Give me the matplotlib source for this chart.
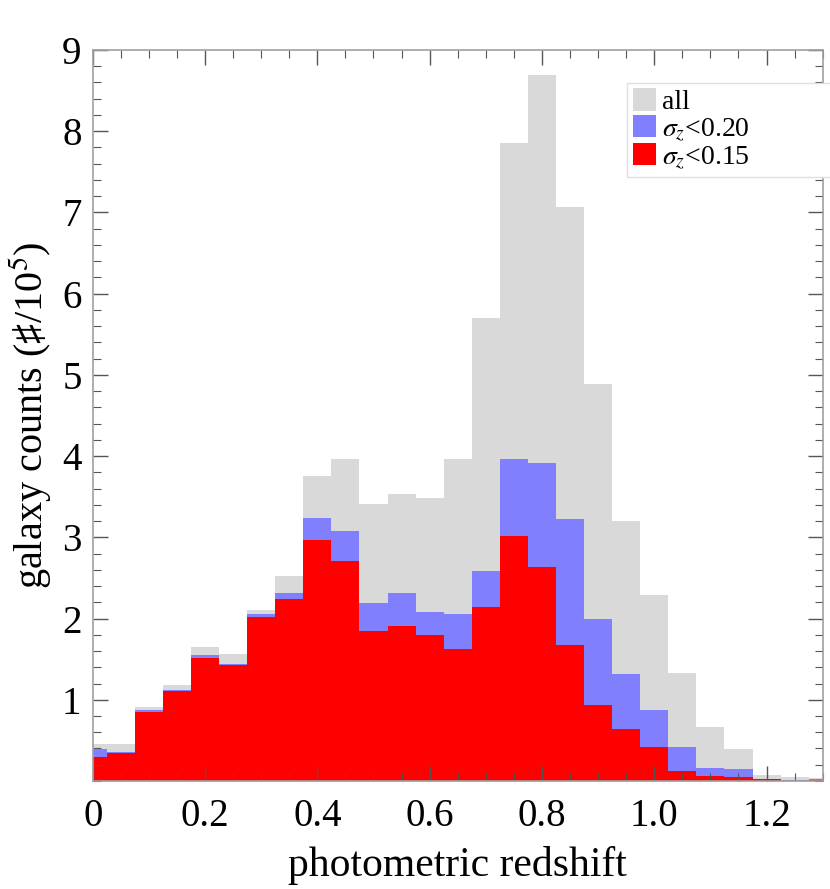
import matplotlib
matplotlib.use("Agg")
import matplotlib.pyplot as plt
from matplotlib.ticker import MultipleLocator, FixedLocator
import numpy as np

plt.rcParams['font.family'] = ['Liberation Serif', 'DejaVu Serif']
plt.rcParams['mathtext.fontset'] = 'stix'

# bin centres (width 0.05)
z_centers = [round(0.05 * i, 2) for i in range(27)]
bin_width = 0.05

counts_all = [0.45, 0.45, 0.915, 1.18, 1.65, 1.56, 2.11, 2.52, 3.756, 3.96, 3.415, 3.53, 3.49,
              3.96, 5.705, 7.85, 8.695, 7.07, 4.89, 3.205, 2.29, 1.334, 0.66, 0.394, 0.074, 0.05, 0.04]
counts_s20 = [0.39, 0.36, 0.88, 1.12, 1.55, 1.44, 2.06, 2.32, 3.235, 3.08, 2.19, 2.31, 2.08,
              2.05, 2.585, 3.97, 3.92, 3.22, 2.00, 1.314, 0.874, 0.42, 0.164, 0.152, 0.03, 0.015, 0.02]
counts_s15 = [0.30, 0.35, 0.855, 1.11, 1.52, 1.43, 2.02, 2.24, 2.968, 2.705, 1.85, 1.91, 1.80,
              1.63, 2.14, 3.02, 2.635, 1.675, 0.936, 0.64, 0.415, 0.123, 0.066, 0.045, 0.02, 0.005, 0.015]

labels = ["all", r"$\sigma_z$<0.20", r"$\sigma_z$<0.15"]
colors = ["#d9d9d9", "#8080ff", "#ff0000"]

x_ticks = [0, 0.2, 0.4, 0.6, 0.8, 1.0, 1.2]
x_ticklabels = ["0", "0.2", "0.4", "0.6", "0.8", "1.0", "1.2"]
y_ticks = [1, 2, 3, 4, 5, 6, 7, 8, 9]

fig = plt.figure(figsize=(8.3, 8.89), dpi=100)
ax = fig.add_axes([0.1117, 0.1215, 0.8795, 0.8223])

for vals, col, lab in zip([counts_all, counts_s20, counts_s15], colors, labels):
    ax.bar(z_centers, vals, width=bin_width, align='center', color=col,
           linewidth=0, label=lab)

ax.set_xlim(0, 1.3)
ax.set_ylim(0, 9)

ax.xaxis.set_major_locator(FixedLocator(x_ticks))
ax.set_xticklabels(x_ticklabels)
ax.xaxis.set_minor_locator(MultipleLocator(0.05))
ax.yaxis.set_major_locator(FixedLocator(y_ticks))
ax.yaxis.set_minor_locator(MultipleLocator(0.2))

ax.tick_params(which='both', direction='in', top=True, right=True, color='#555555')
ax.tick_params(which='major', length=11, width=1.0, labelsize=28)
ax.tick_params(which='minor', length=5.5, width=0.8)
ax.tick_params(axis='x', which='major', pad=12)
ax.tick_params(axis='y', which='major', pad=8)
for s in ax.spines.values():
    s.set_color('#a0a0a0')
    s.set_linewidth(1.2)

ax.set_xlabel("photometric redshift", fontsize=30, labelpad=8)
ax.set_ylabel("galaxy counts (\u266f/10$^5$)", fontsize=29, labelpad=6)

leg = ax.legend(loc='upper left', bbox_to_anchor=(0.732, 0.83, 0.28, 0.125), mode='expand',
                fontsize=20, frameon=True, fancybox=False, framealpha=1,
                edgecolor='#e0e0e0', handlelength=0.85, handleheight=0.85,
                handletextpad=0.2, labelspacing=0.0, borderpad=0.2, borderaxespad=0)
leg.get_frame().set_linewidth(1.0)

fig.savefig("out.png", dpi=100)
